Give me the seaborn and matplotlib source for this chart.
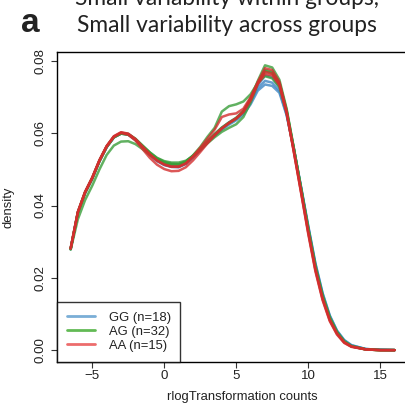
import numpy as np
import pandas as pd
import matplotlib
matplotlib.use("Agg")
import matplotlib.pyplot as plt
import seaborn as sns
from matplotlib.lines import Line2D

# ---------------- data ----------------
x_grid = [-6.5, -6.0, -5.5, -5.0, -4.5, -4.0, -3.5, -3.0, -2.5, -2.0, -1.5, -1.0,
          -0.5, 0.0, 0.5, 1.0, 1.5, 2.0, 2.5, 3.0, 3.5, 4.0, 4.5, 5.0, 5.5, 6.0,
          6.5, 7.0, 7.5, 8.0, 8.5, 9.0, 9.5, 10.0, 10.5, 11.0, 11.5, 12.0, 12.5,
          13.0, 14.0, 15.0, 16.0]

groups = ["GG", "AG", "AA"]
group_labels = ["GG (n=18)", "AG (n=32)", "AA (n=15)"]

# GG (blue) sample curves
gg_1 = [0.0280, 0.0380, 0.0435, 0.0475, 0.0523, 0.0562, 0.0589, 0.0600, 0.0597, 0.0582, 0.0561, 0.0540,
        0.0523, 0.0512, 0.0507, 0.0506, 0.0515, 0.0533, 0.0553, 0.0574, 0.0594, 0.0612, 0.0627, 0.0640, 0.0657, 0.0686,
        0.0725, 0.0745, 0.0740, 0.0718, 0.0652, 0.0556, 0.0450, 0.0342, 0.0238, 0.0156, 0.0094, 0.0053, 0.0027,
        0.0013, 0.0003, 0.0001, 0.0000]
gg_2 = [0.0280, 0.0381, 0.0436, 0.0476, 0.0524, 0.0563, 0.0590, 0.0601, 0.0598, 0.0583, 0.0563, 0.0543,
        0.0526, 0.0515, 0.0509, 0.0508, 0.0517, 0.0535, 0.0556, 0.0577, 0.0597, 0.0615, 0.0630, 0.0642, 0.0660, 0.0692,
        0.0733, 0.0760, 0.0755, 0.0728, 0.0658, 0.0558, 0.0451, 0.0340, 0.0235, 0.0153, 0.0092, 0.0051, 0.0025,
        0.0012, 0.0003, 0.0001, 0.0000]
gg_3 = [0.0279, 0.0379, 0.0434, 0.0474, 0.0522, 0.0561, 0.0588, 0.0599, 0.0596, 0.0581, 0.0561, 0.0541,
        0.0524, 0.0513, 0.0508, 0.0507, 0.0516, 0.0534, 0.0554, 0.0575, 0.0593, 0.0610, 0.0624, 0.0636, 0.0652, 0.0680,
        0.0718, 0.0735, 0.0731, 0.0712, 0.0650, 0.0557, 0.0453, 0.0345, 0.0241, 0.0158, 0.0096, 0.0054, 0.0028,
        0.0014, 0.0003, 0.0001, 0.0000]

# AG (green) sample curves
ag_1 = [0.0281, 0.0382, 0.0437, 0.0477, 0.0525, 0.0564, 0.0590, 0.0600, 0.0598, 0.0585, 0.0566, 0.0547,
        0.0531, 0.0521, 0.0516, 0.0515, 0.0522, 0.0538, 0.0557, 0.0578, 0.0598, 0.0616, 0.0630, 0.0643, 0.0662, 0.0697,
        0.0745, 0.0788, 0.0782, 0.0748, 0.0668, 0.0560, 0.0448, 0.0336, 0.0230, 0.0149, 0.0088, 0.0049, 0.0024,
        0.0011, 0.0002, 0.0000, 0.0000]
ag_2 = [0.0280, 0.0380, 0.0435, 0.0475, 0.0523, 0.0562, 0.0589, 0.0599, 0.0596, 0.0583, 0.0564, 0.0545,
        0.0529, 0.0519, 0.0514, 0.0513, 0.0521, 0.0539, 0.0562, 0.0590, 0.0615, 0.0660, 0.0675, 0.0680, 0.0688, 0.0708,
        0.0740, 0.0758, 0.0752, 0.0728, 0.0658, 0.0555, 0.0446, 0.0335, 0.0231, 0.0150, 0.0090, 0.0050, 0.0024,
        0.0011, 0.0002, 0.0000, 0.0000]
ag_3 = [0.0278, 0.0362, 0.0415, 0.0455, 0.0500, 0.0540, 0.0566, 0.0577, 0.0578, 0.0570, 0.0556, 0.0540,
        0.0527, 0.0518, 0.0514, 0.0514, 0.0521, 0.0537, 0.0556, 0.0577, 0.0597, 0.0614, 0.0628, 0.0640, 0.0659, 0.0693,
        0.0740, 0.0772, 0.0767, 0.0738, 0.0663, 0.0557, 0.0447, 0.0335, 0.0230, 0.0149, 0.0089, 0.0049, 0.0024,
        0.0011, 0.0002, 0.0000, 0.0000]
ag_4 = [0.0280, 0.0380, 0.0435, 0.0475, 0.0523, 0.0562, 0.0589, 0.0599, 0.0597, 0.0584, 0.0565, 0.0547,
        0.0532, 0.0523, 0.0519, 0.0519, 0.0524, 0.0537, 0.0554, 0.0572, 0.0589, 0.0604, 0.0615, 0.0625, 0.0645, 0.0685,
        0.0738, 0.0775, 0.0770, 0.0740, 0.0664, 0.0558, 0.0448, 0.0337, 0.0232, 0.0150, 0.0089, 0.0049, 0.0024,
        0.0011, 0.0002, 0.0000, 0.0000]

# AA (red) sample curves
aa_1 = [0.0281, 0.0381, 0.0436, 0.0476, 0.0524, 0.0563, 0.0590, 0.0601, 0.0596, 0.0580, 0.0556, 0.0532,
        0.0513, 0.0501, 0.0495, 0.0496, 0.0506, 0.0525, 0.0548, 0.0572, 0.0594, 0.0613, 0.0628, 0.0641, 0.0660, 0.0695,
        0.0742, 0.0780, 0.0775, 0.0742, 0.0660, 0.0548, 0.0436, 0.0322, 0.0218, 0.0138, 0.0080, 0.0043, 0.0020,
        0.0009, 0.0002, 0.0000, 0.0000]
aa_2 = [0.0281, 0.0382, 0.0437, 0.0477, 0.0525, 0.0564, 0.0591, 0.0602, 0.0598, 0.0583, 0.0562, 0.0541,
        0.0524, 0.0513, 0.0507, 0.0507, 0.0516, 0.0536, 0.0560, 0.0585, 0.0610, 0.0645, 0.0652, 0.0655, 0.0668, 0.0700,
        0.0740, 0.0770, 0.0765, 0.0736, 0.0657, 0.0550, 0.0439, 0.0326, 0.0222, 0.0141, 0.0082, 0.0045, 0.0021,
        0.0010, 0.0002, 0.0000, 0.0000]
aa_3 = [0.0282, 0.0383, 0.0438, 0.0478, 0.0526, 0.0565, 0.0592, 0.0603, 0.0599, 0.0584, 0.0563, 0.0542,
        0.0525, 0.0514, 0.0508, 0.0508, 0.0517, 0.0535, 0.0555, 0.0576, 0.0596, 0.0614, 0.0629, 0.0641, 0.0659, 0.0691,
        0.0736, 0.0764, 0.0760, 0.0733, 0.0656, 0.0551, 0.0440, 0.0328, 0.0224, 0.0143, 0.0084, 0.0046, 0.0022,
        0.0010, 0.0002, 0.0000, 0.0000]

curves = {
    "GG": [gg_1, gg_2, gg_3],
    "AG": [ag_1, ag_2, ag_3, ag_4],
    "AA": [aa_1, aa_2, aa_3],
}

x_ticks = [-5, 0, 5, 10, 15]
y_ticks = [0.00, 0.02, 0.04, 0.06, 0.08]
y_tick_labels = ["0.00", "0.02", "0.04", "0.06", "0.08"]

title_line1 = "Small variability within groups,"
title_line2 = "Small variability across groups"
panel_letter = "a"
x_label = "rlogTransformation counts"
y_label = "density"

# ---------------- build long table ----------------
rows = []
for g in groups:
    for i, ys in enumerate(curves[g]):
        for xv, yv in zip(x_grid, ys):
            rows.append({"x": xv, "density": yv, "group": g, "sample": f"{g}_{i}"})
df = pd.DataFrame(rows)

# ---------------- style ----------------
sns.set_theme(style="white")
plt.rcParams["font.family"] = ["Liberation Sans", "DejaVu Sans"]

curve_palette = {"GG": "#3F86C4", "AG": "#3A9E3A", "AA": "#D42E2E"}
legend_colors = ["#7AAED6", "#62BA55", "#EC6C6C"]

fig = plt.figure(figsize=(4.05, 4.08), dpi=100)
ax = fig.add_axes([0.1407, 0.1135, 0.862, 0.7583])

sns.lineplot(data=df, x="x", y="density", hue="group", units="sample",
             estimator=None, hue_order=groups, palette=curve_palette,
             lw=1.8, alpha=0.8, legend=False, sort=False, ax=ax)

ax.set_xlim(-7.45, 16.8)
ax.set_ylim(-0.0032, 0.0824)
ax.set_xticks(x_ticks)
ax.set_xticklabels([f"{t:d}".replace("-", "\u2212") for t in x_ticks])
ax.set_yticks(y_ticks)
ax.set_yticklabels(y_tick_labels, rotation=90, va="center")

for s in ax.spines.values():
    s.set_visible(True)
    s.set_color("black")
    s.set_linewidth(1.0)

ax.tick_params(axis="both", which="major", direction="out", length=4.5,
               width=0.8, color="#333333", labelsize=9.6, labelcolor="#222222",
               bottom=True, left=True)
ax.tick_params(axis="x", pad=1.5)
ax.tick_params(axis="y", pad=3)

ax.set_xlabel(x_label, fontsize=9.4, color="#222222")
ax.set_ylabel(y_label, fontsize=9.4, color="#222222")
ax.xaxis.set_label_coords(0.53, -0.095)
ax.yaxis.set_label_coords(-0.122, 0.5)

handles = [Line2D([0], [0], color=c, lw=2.0) for c in legend_colors]
leg = ax.legend(handles, group_labels, loc="lower left", bbox_to_anchor=(0, 0),
                borderaxespad=0, frameon=True, fancybox=False, edgecolor="black",
                fontsize=9.4, handlelength=2.2, handletextpad=1.0,
                labelspacing=0.15, borderpad=0.75)
leg.get_frame().set_linewidth(1.0)
for t in leg.get_texts():
    t.set_color("#222222")

fig.text(0.5605, 0.9877, title_line1, ha="center", va="baseline",
         fontsize=16.4, family=["Lato", "DejaVu Sans"], color="#222222")
fig.text(0.5605, 0.9216, title_line2, ha="center", va="baseline",
         fontsize=16.4, family=["Lato", "DejaVu Sans"], color="#222222")
fig.text(0.051, 0.9216, panel_letter, ha="left", va="baseline",
         fontsize=24, fontweight="bold", color="#222222")

fig.savefig("out.png", dpi=100)
